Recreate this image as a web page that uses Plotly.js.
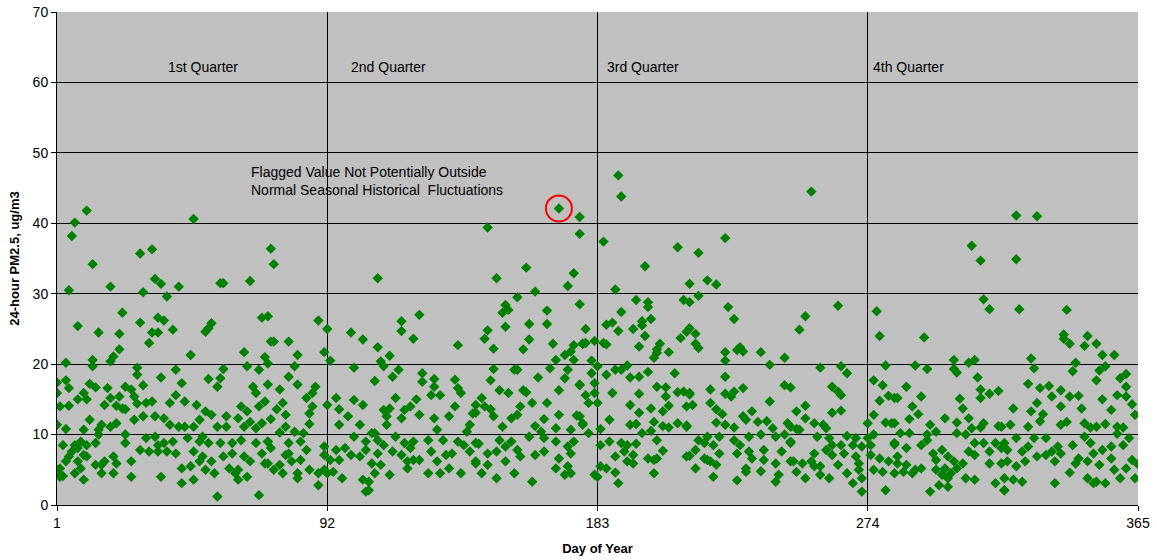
<!DOCTYPE html>
<html>
<head>
<meta charset="utf-8">
<script src="https://cdn.plot.ly/plotly-3.0.1.min.js"></script>
<style>html,body{margin:0;padding:0;background:#fff;}#chart{width:1157px;height:560px;}</style>
</head>
<body>
<div id="chart"></div>
<script>
// Day-of-year / 24-hour PM2.5 (ug/m3) readings
const q1Points = [
[11,41.8],[7,40.1],[6,38.2],[13,34.2],[29,35.7],[33,36.3],[5,30.5],[19,31.0],[34,32.1],[36,31.4],[30,30.2],[23,27.3],[8,25.4],[15,24.5],[22,24.3],[29,25.9],[33,24.5],[35,24.5],[32,23.0],[35,26.6],[37,26.2],[22,22.1],[20,21.1],[19,20.4],[13,20.6],[13,19.7],[4,20.2],[28,19.5],[28,18.5],[30,17.0],[36,18.1],
[1,17.4],[4,17.7],[5,16.6],[1,15.9],[2,14.0],[5,14.1],[8,15.0],[10,15.9],[11,15.0],[12,17.2],[14,16.7],[18,16.6],[17,14.2],[19,15.2],[21,14.1],[22,15.4],[23,13.7],[24,16.8],[26,16.4],[27,15.4],[28,14.4],[31,14.5],[33,14.7],[34,12.6],[30,12.6],[37,12.3],[27,12.1],[24,13.6],[21,11.6],[19,11.1],[16,11.4],[15,10.7],[12,12.1],[10,10.7],[1,11.4],[4,10.8],
[3,8.5],[7,8.5],[9,9.0],[11,8.5],[6,7.6],[5,6.9],[8,8.1],[14,8.8],[15,10.0],[24,10.0],[24,8.8],[31,9.5],[34,9.7],[29,7.8],[32,7.6],[35,8.5],[35,7.6],[4,6.2],[8,6.2],[10,7.1],[11,6.9],[14,5.7],[17,6.2],[20,6.9],[21,5.9],[26,6.2],[1,5.0],[2,4.0],[7,4.5],[10,3.6],[16,5.7],[16,4.5],[20,4.5],[26,4.0],[36,4.0],[9,5.2],[1,4.6],[2,5.2],[3,4.1],
[47,40.6],[42,31.0],[38,29.6],[56,31.5],[57,31.5],[66,31.8],[40,24.9],[70,26.6],[72,26.8],[53,25.8],[51,24.6],[52,25.1],[46,21.3],[64,21.7],[71,21.0],[73,23.2],[65,19.7],[69,19.2],[72,20.1],[57,19.3],[41,19.2],[43,17.3],[52,17.9],[56,18.0],[55,16.8],[67,16.8],[68,15.9],[72,17.1],
[41,15.6],[44,14.7],[48,14.2],[39,14.5],[51,13.3],[53,12.8],[58,12.6],[63,14.0],[65,13.3],[69,14.0],[71,14.7],[62,12.3],[39,11.4],[42,11.1],[44,11.1],[47,11.1],[49,12.1],[55,11.1],[58,11.1],[66,11.8],[68,10.9],[70,11.6],[64,11.1],
[37,8.8],[40,9.0],[45,9.5],[49,9.0],[50,9.7],[52,8.8],[56,8.8],[60,8.8],[63,9.2],[68,8.8],[72,9.0],[38,7.6],[41,7.3],[47,7.6],[50,6.9],[53,6.2],[57,6.9],[60,7.3],[64,6.9],[66,6.2],[70,7.3],[43,5.2],[46,5.5],[49,6.2],[54,4.5],[59,5.2],[62,5.0],[65,4.0],[71,5.9],[43,3.1],[47,3.6],[55,1.2],[62,3.6],[69,1.4],[51,5.0],[61,4.5],
[73,36.4],[74,34.2],[89,26.2],[74,23.2],[79,23.2],[82,21.3],[91,21.7],[81,19.7],[79,18.2],[82,17.1],[76,16.4],[77,14.5],[85,15.2],[88,16.8],[87,15.9],[87,14.0],[86,13.0],[86,11.5],[78,12.8],[73,12.2],[75,13.6],[78,11.1],[76,10.3],[81,10.4],[84,10.2],
[72,9.0],[73,8.1],[79,8.8],[79,7.3],[78,7.1],[83,9.0],[85,7.8],[91,8.3],[72,5.9],[76,5.7],[80,6.2],[83,6.4],[91,7.1],[74,5.0],[77,4.5],[82,3.8],[86,5.0],[89,4.5],[91,5.0],[89,2.8],[82,4.5]
];
const q2Points = [
[92,25.0],[100,24.5],[104,23.5],[93,20.5],[101,19.5],[92,14.2],[95,15.2],[96,13.6],[99,12.6],[101,14.9],[104,14.2],[103,11.4],[96,11.4],[108,10.2],[105,9.0],
[95,7.8],[98,8.1],[101,9.7],[105,7.8],[93,6.4],[96,6.4],[100,7.1],[103,6.9],[94,4.7],[97,3.8],[92,4.5],[104,3.6],[105,1.9],
[109,32.2],[123,27.0],[117,26.1],[117,24.7],[121,23.6],[136,22.7],[109,22.4],[113,21.2],[110,20.4],[111,19.7],[116,19.2],[114,18.2],[108,17.6],[124,18.7],[124,17.5],[128,17.9],[128,16.8],[127,15.6],[130,15.6],[135,17.8],[136,16.6],[137,15.9],[115,15.2],[122,15.0],[120,14.0],[135,14.0],[142,14.2],[141,13.0],[111,13.5],[113,13.7],[118,13.5],[112,12.6],[117,12.3],[123,12.8],[128,12.3],[133,12.6],[112,11.4],[129,10.7],[140,11.4],[139,10.4],
[107,10.2],[109,9.2],[111,8.5],[115,9.7],[118,8.8],[121,9.0],[126,9.2],[131,9.2],[136,9.0],[138,8.5],[142,8.8],[109,7.3],[114,7.6],[117,7.1],[120,8.1],[123,6.4],[127,7.6],[132,7.1],[134,7.3],[140,7.6],[142,6.2],[107,5.9],[110,5.7],[119,6.2],[121,6.4],[129,6.2],[133,5.2],[137,4.5],[108,4.5],[113,4.3],[119,5.2],[126,4.5],[130,4.5],[106,2.1],[106,3.3],
[146,39.4],[159,33.7],[149,32.2],[175,32.9],[173,31.1],[162,30.3],[156,29.5],[177,28.5],[152,28.4],[151,27.3],[166,27.6],[153,27.7],[146,24.8],[145,23.6],[152,25.3],[160,25.7],[166,25.7],[160,23.5],[168,22.9],[148,22.2],[158,22.1],[175,22.7],[178,22.9],[172,21.3],[174,21.8],[175,20.6],[169,20.6],[167,19.4],[148,19.3],[155,19.2],[156,19.2],[163,18.1],[172,18.0],[173,19.2],[147,17.7],[150,16.3],[153,15.9],[158,16.3],[159,16.0],[161,14.5],[170,16.3],[166,14.5],[177,17.0],[144,15.2],[145,14.0],[147,13.6],[148,12.6],[142,13.1],[157,14.0],[156,12.8],[154,12.3],[165,12.2],[170,12.8],[176,12.7],[178,11.6],[151,11.1],[162,11.2],[164,10.4],[169,10.9],[174,10.7],[160,9.7],
[143,8.7],[150,9.2],[154,9.0],[156,7.8],[165,9.5],[169,9.0],[173,8.3],[175,9.0],[146,7.3],[149,7.6],[152,8.3],[157,6.9],[165,7.6],[170,6.6],[174,7.3],[142,5.9],[146,5.7],[152,6.2],[169,5.2],[173,5.5],[144,4.5],[149,3.8],[155,4.5],[161,3.3],[172,4.3],[174,4.5],[162,7.1],
[177,40.9],[177,38.5],
[179,25.0],[179,23.0],[178,22.9],[182,23.3],[181,20.5],[177,17.1],[181,18.7],[182,17.3],[179,15.6],[182,15.9],[180,14.5],[177,12.6],[178,11.4],[180,10.2],[182,4.3]
];
const q3Points = [
[190,46.8],[191,43.8],[185,37.4],[210,36.6],[199,33.9],[214,31.4],[189,30.6],[196,29.1],[200,28.8],[200,28.1],[212,29.1],[214,28.8],[191,27.4],[201,26.4],[186,25.6],[188,25.9],[190,24.7],[195,25.0],[198,26.1],[198,25.5],[199,24.0],[185,23.0],[186,22.8],[197,22.5],[211,23.7],[213,24.6],[214,25.1],[204,22.9],[203,22.1],[203,21.6],[202,20.9],[207,21.7],[183,19.7],[189,19.2],[191,19.2],[193,19.8],[186,18.5],[194,18.1],[197,18.2],[200,18.9],[209,18.7],[203,16.8],[206,16.7],[210,16.0],[212,16.1],[214,15.9],[188,15.9],[197,15.8],[206,15.4],[183,14.5],[194,14.2],[201,13.7],[207,14.1],[205,13.3],[197,13.1],[187,12.1],[202,11.8],[205,11.2],[207,11.0],[210,11.6],[213,11.3],[194,11.4],[196,11.5],[184,10.8],[198,10.2],[201,10.5],
[184,8.5],[187,9.0],[191,8.8],[193,8.5],[196,8.7],[203,9.2],[192,7.6],[195,7.1],[189,6.9],[200,6.6],[203,6.6],[205,7.7],[193,6.2],[195,5.9],[202,6.4],[213,6.9],[184,5.5],[186,5.2],[189,4.6],[202,4.5],[190,3.1],[183,4.0],
[226,37.9],[217,35.8],[220,31.9],[223,31.3],[217,29.7],[227,28.1],[229,26.4],[216,24.3],[216,22.9],[217,22.3],[226,21.7],[230,22.0],[231,22.4],[232,21.8],[238,21.7],[226,20.5],[241,19.9],[246,20.9],[226,18.2],[246,17.0],[248,16.7],[221,16.4],[226,15.8],[229,16.1],[228,15.4],[232,16.6],[214,15.7],[215,14.2],[213,14.0],[221,14.5],[223,13.6],[225,12.9],[223,11.7],[226,11.4],[229,11.0],[232,12.6],[235,13.3],[237,11.8],[241,14.7],[240,11.9],[242,10.9],[247,11.6],[213,11.1],[233,12.1],
[217,9.2],[220,9.7],[224,9.7],[219,8.8],[229,9.2],[234,9.7],[238,10.0],[243,9.7],[246,10.0],[248,9.0],[216,7.8],[222,8.5],[224,7.3],[231,8.5],[234,7.6],[239,7.8],[245,7.6],[214,7.0],[219,6.6],[221,6.2],[230,7.3],[235,6.6],[243,5.9],[248,6.2],[216,5.2],[220,6.4],[223,5.7],[233,5.2],[238,4.8],[244,4.3],[222,4.0],[233,4.7],[230,3.5],[243,3.3],[239,6.4],
[255,44.5],[264,28.3],[253,26.8],[251,24.9],[258,19.5],[265,19.7],[267,18.7],[262,16.8],[264,16.1],[265,15.6],[250,13.3],[253,14.1],[253,12.3],[265,13.4],[262,13.1],[256,11.6],[259,11.4],[260,10.9],[248,11.1],[250,10.8],[251,10.7],
[257,9.7],[261,9.5],[267,9.8],[270,9.5],[248,8.8],[262,8.5],[265,8.5],[269,8.5],[272,8.3],[260,7.8],[256,7.3],[262,7.1],[266,7.3],[270,6.9],[249,6.2],[252,5.9],[255,6.2],[258,5.5],[264,5.7],[271,5.9],[250,4.7],[253,3.8],[258,4.3],[261,3.8],[267,4.5],[269,3.1],[272,3.8],[272,1.9],[256,5.5],[271,5.0]
];
const q4Points = [
[277,27.5],[278,24.0],[280,19.8],[276,17.7],[279,17.0],[278,14.8],[281,15.5],[284,15.2],[276,12.8],[274,11.6],[280,11.7],[282,11.6],[283,8.6],[276,10.0],[274,9.5],[275,8.5],[275,7.1],[278,6.6],[281,6.2],[284,6.9],[276,5.0],[279,4.7],[283,4.5],[280,2.1],
[309,36.8],[312,34.7],[313,29.2],[315,27.8],[293,23.8],[290,19.8],[294,19.3],[303,20.6],[303,19.3],[304,18.8],[308,20.2],[310,20.6],[311,18.1],[287,16.8],[292,15.4],[283,15.2],[305,15.1],[312,16.4],[312,15.2],[315,15.8],[318,16.2],[289,14.0],[291,12.9],[288,12.2],[306,13.7],[308,12.3],[300,12.3],[304,11.7],[295,11.4],[283,11.6],[313,11.6],[312,11.0],[309,10.9],[318,11.2],[285,10.2],[288,10.2],[294,10.0],[297,10.4],[304,10.2],[307,10.0],
[283,8.8],[287,8.1],[292,8.5],[294,9.2],[310,8.8],[313,8.8],[317,8.8],[319,8.1],[296,7.3],[299,7.8],[301,6.9],[308,7.6],[315,7.6],[297,6.4],[303,6.2],[306,5.9],[310,7.1],[315,5.9],[319,5.9],[284,5.9],[287,5.7],[289,4.5],[290,5.0],[292,5.2],[297,5.0],[299,4.3],[301,3.8],[304,5.2],[307,3.8],[310,3.6],[298,2.8],[295,1.9],[301,2.6],[317,3.1],[320,2.1],[286,4.7],[300,5.2],[302,4.5],
[324,41.1],[331,41.0],[324,34.9],[325,27.8],[341,27.7],[340,24.2],[340,23.6],[342,22.9],[348,24.0],[347,22.6],[351,22.9],[353,21.3],[357,21.3],[329,20.8],[330,19.4],[344,20.2],[343,19.0],[352,19.1],[354,19.7],[351,17.7],[361,18.6],[359,18.0],[361,16.8],[328,17.2],[332,16.6],[335,16.9],[339,16.3],[336,15.4],[342,15.4],[339,14.0],[345,15.5],[353,15.0],[358,15.6],[361,15.4],[323,13.7],[331,14.5],[329,13.3],[333,12.9],[346,13.7],[356,13.5],[363,14.3],[364,12.8],[322,11.4],[328,11.1],[332,11.9],[339,11.4],[341,11.8],[347,11.6],[349,11.0],[351,11.1],[354,11.5],[358,11.1],[360,11.0],[319,11.1],
[320,8.8],[324,9.5],[328,8.3],[330,9.5],[334,9.5],[338,8.3],[343,8.5],[347,9.7],[349,8.8],[353,7.8],[356,8.3],[358,10.1],[360,8.5],[362,9.5],[321,7.8],[326,7.6],[331,6.9],[336,7.6],[339,7.3],[345,6.6],[350,7.3],[356,6.6],[363,6.4],[365,5.8],[321,6.2],[324,5.5],[327,6.2],[334,7.1],[337,6.2],[344,5.9],[348,6.2],[352,5.7],[357,5.0],[361,5.2],[320,3.8],[323,3.6],[326,3.3],[337,3.1],[342,4.6],[348,3.8],[351,3.3],[354,3.1],[359,3.8],[364,3.8],[320,2.1],[350,3.1]
];
const flaggedPoint = [170, 42.1];

const xTickVals = [1, 92, 183, 274, 365];
const xTickText = ["1", "92", "183", "274", "365"];
const quarterLabels = ["1st Quarter", "2nd Quarter", "3rd Quarter", "4th Quarter"];
const flagText = "Flagged Value Not Potentially Outside<br>Normal Seasonal Historical  Fluctuations";

const allPoints = q1Points.concat(q2Points, q3Points, q4Points, [flaggedPoint]);
const xs = allPoints.map(p => p[0]);
const ys = allPoints.map(p => p[1]);

const FONT = "Liberation Sans, Arial, sans-serif";

const traces = [
  {
    type: "scatter", mode: "markers", x: xs, y: ys,
    marker: {symbol: "diamond", size: 8, color: "#008000", line: {width: 0}},
    hoverinfo: "x+y", showlegend: false
  },
  {
    type: "scatter", mode: "markers", x: [flaggedPoint[0]], y: [flaggedPoint[1]],
    marker: {symbol: "circle-open", size: 26, color: "#ff0000", line: {width: 2, color: "#ff0000"}},
    hoverinfo: "skip", showlegend: false
  }
];

const quarterX = [37.7, 99.3, 185.5, 275.0];
const annotations = quarterLabels.map((t, i) => ({
  x: quarterX[i], y: 62.2, xref: "x", yref: "y", text: t, showarrow: false,
  xanchor: "left", yanchor: "middle", font: {family: FONT, size: 14, color: "#000"}
}));
annotations.push({
  x: 65.6, y: 46.0, xref: "x", yref: "y", text: flagText, showarrow: false,
  xanchor: "left", yanchor: "middle", align: "left",
  font: {family: FONT, size: 14, color: "#000"}
});

const layout = {
  width: 1157, height: 560,
  margin: {l: 57, r: 19, t: 12, b: 55},
  paper_bgcolor: "#ffffff",
  plot_bgcolor: "#c0c0c0",
  font: {family: FONT, size: 14, color: "#000"},
  showlegend: false,
  xaxis: {
    range: [1, 365], tickvals: xTickVals, ticktext: xTickText,
    showgrid: true, gridcolor: "#000", gridwidth: 1,
    showline: true, linecolor: "#000", linewidth: 1, mirror: false,
    ticks: "outside", ticklen: 5, tickcolor: "#000",
    zeroline: false,
    tickfont: {family: FONT, size: 14, color: "#000"},
    title: {text: "<b>Day of Year</b>", font: {family: FONT, size: 13, color: "#000"}, standoff: 14}
  },
  yaxis: {
    range: [0, 70], dtick: 10, tick0: 0,
    showgrid: true, gridcolor: "#000", gridwidth: 1,
    showline: true, linecolor: "#000", linewidth: 1, mirror: false,
    ticks: "outside", ticklen: 5, tickcolor: "#000",
    zeroline: false,
    tickfont: {family: FONT, size: 14, color: "#000"},
    title: {text: "<b>24-hour PM2.5, ug/m3</b>", font: {family: FONT, size: 13, color: "#000"}, standoff: 10}
  },
  annotations: annotations
};

Plotly.newPlot("chart", traces, layout, {displayModeBar: false, staticPlot: true});
</script>
</body>
</html>
